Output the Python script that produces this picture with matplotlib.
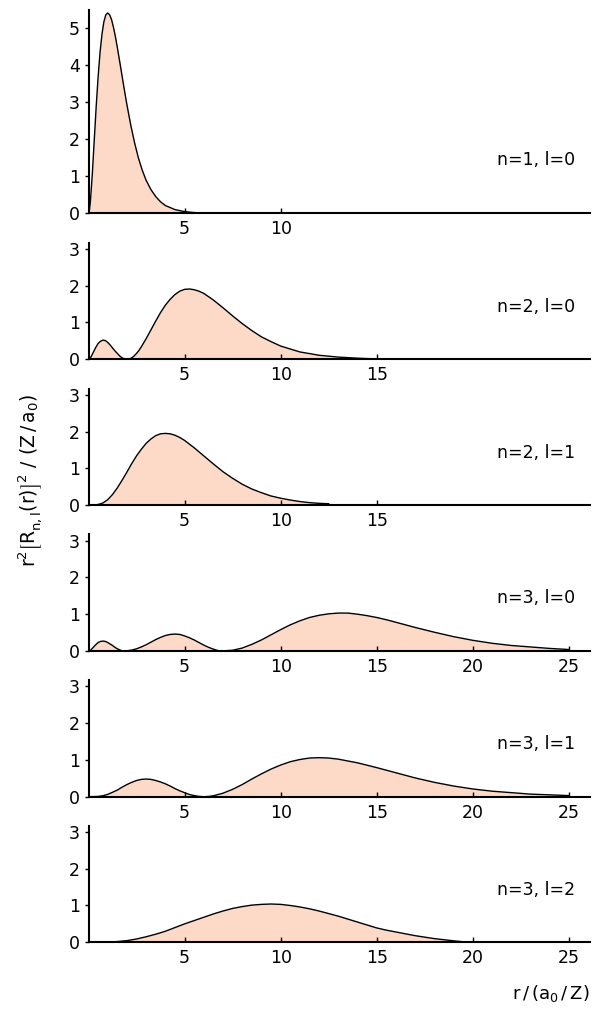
import matplotlib
matplotlib.use('Agg')
import matplotlib.pyplot as plt

plt.rcParams['font.family'] = ['DejaVu Sans']
plt.rcParams['mathtext.fontset'] = 'dejavusans'

# radial probability, values
r_1s = [0, 0.05, 0.1, 0.2, 0.3, 0.4, 0.5, 0.6, 0.7, 0.8, 0.9, 1.0, 1.1, 1.2, 1.3, 1.4, 1.5,
        1.6, 1.7, 1.8, 1.9, 2.0, 2.2, 2.4, 2.6, 2.8, 3.0, 3.25, 3.5, 3.75, 4.0, 4.5, 5.0,
        5.5, 6.0, 7.0, 8.0]
y_1s = [0, 0.09, 0.33, 1.07, 1.98, 2.88, 3.68, 4.34, 4.83, 5.17, 5.36, 5.41, 5.36, 5.23, 5.02, 4.77, 4.48,
        4.17, 3.86, 3.54, 3.23, 2.93, 2.38, 1.90, 1.49, 1.16, 0.89, 0.64, 0.45, 0.31, 0.21, 0.10, 0.045,
        0.02, 0.009, 0.002, 0.0]

r_2s = [0, 0.125, 0.25, 0.375, 0.5, 0.625, 0.75, 0.875, 1.0, 1.125, 1.25, 1.375, 1.5, 1.625, 1.75,
        1.875, 2.0, 2.125, 2.25, 2.375, 2.5, 2.625, 2.75, 2.875, 3.0, 3.25, 3.5, 3.75, 4.0, 4.25,
        4.5, 4.75, 5.0, 5.25, 5.5, 5.75, 6.0, 6.5, 7.0, 7.5, 8.0, 8.5, 9.0, 9.5, 10, 11, 12,
        13, 14, 15]
y_2s = [0, 0.06, 0.19, 0.32, 0.43, 0.49, 0.52, 0.51, 0.46, 0.39, 0.31, 0.23, 0.16, 0.09, 0.04,
        0.01, 0.0, 0.01, 0.04, 0.09, 0.16, 0.24, 0.34, 0.45, 0.56, 0.80, 1.04, 1.27, 1.47, 1.63,
        1.76, 1.85, 1.90, 1.91, 1.89, 1.85, 1.79, 1.61, 1.40, 1.18, 0.97, 0.78, 0.61, 0.48, 0.36, 0.20, 0.11,
        0.06, 0.03, 0.01]

r_2p = [0, 0.25, 0.5, 0.75, 1.0, 1.25, 1.5, 1.75, 2.0, 2.25, 2.5, 2.75, 3.0, 3.25, 3.5, 3.75,
        4.0, 4.25, 4.5, 4.75, 5.0, 5.5, 6.0, 6.5, 7.0, 7.5, 8.0, 8.5, 9.0, 9.5, 10, 10.5, 11,
        11.5, 12, 12.5]
y_2p = [0, 0.001, 0.02, 0.06, 0.15, 0.29, 0.47, 0.68, 0.90, 1.13, 1.34, 1.52, 1.68, 1.80, 1.89, 1.94,
        1.95, 1.94, 1.90, 1.84, 1.76, 1.56, 1.34, 1.12, 0.91, 0.73, 0.57, 0.44, 0.34, 0.25, 0.19, 0.14, 0.10,
        0.07, 0.05, 0.04]

r_3s = [0, 0.125, 0.25, 0.375, 0.5, 0.625, 0.75, 0.875, 1.0, 1.125, 1.25, 1.375, 1.5, 1.625,
        1.75, 1.85, 2.0, 2.25, 2.5, 2.75, 3.0, 3.25, 3.5, 3.75, 4.0, 4.25, 4.5, 4.75, 5.0, 5.25,
        5.5, 5.75, 6.0, 6.25, 6.5, 6.75, 6.85, 7.0, 7.5, 8.0, 8.5, 9.0, 9.5, 10, 10.5, 11, 11.5,
        12, 12.5, 13, 13.5, 14, 14.5, 15, 15.5, 16, 17, 18, 19, 20, 21, 22, 23, 24, 25]
y_3s = [0, 0.03, 0.10, 0.17, 0.23, 0.26, 0.27, 0.26, 0.23, 0.19, 0.15, 0.10, 0.06, 0.03,
        0.005, 0.0, 0.005, 0.025, 0.06, 0.11, 0.17, 0.24, 0.31, 0.37, 0.42, 0.45, 0.46, 0.45, 0.41, 0.36,
        0.30, 0.23, 0.16, 0.10, 0.05, 0.01, 0.0, 0.003, 0.02, 0.08, 0.18, 0.30, 0.44, 0.58, 0.71, 0.82, 0.91,
        0.97, 1.01, 1.03, 1.03, 1.00, 0.96, 0.91, 0.85, 0.78, 0.64, 0.51, 0.39, 0.29, 0.21, 0.15, 0.11, 0.07, 0.04]

r_3p = [0, 0.5, 0.75, 1.0, 1.25, 1.5, 1.75, 2.0, 2.25, 2.5, 2.75, 3.0, 3.25, 3.5, 3.75, 4.0,
        4.25, 4.5, 4.75, 5.0, 5.25, 5.5, 5.75, 6.0, 6.25, 6.5, 7.0, 7.5, 8.0, 8.5, 9.0, 9.5,
        10, 10.5, 11, 11.5, 12, 12.5, 13, 13.5, 14, 15, 16, 17, 18, 19, 20, 21, 22, 23, 24, 25]
y_3p = [0, 0.007, 0.026, 0.063, 0.12, 0.18, 0.26, 0.33, 0.39, 0.44, 0.47, 0.48, 0.47, 0.44, 0.40, 0.35,
        0.29, 0.22, 0.16, 0.11, 0.06, 0.03, 0.007, 0.0, 0.006, 0.025, 0.095, 0.20, 0.33, 0.48, 0.62, 0.75,
        0.86, 0.95, 1.01, 1.05, 1.06, 1.05, 1.02, 0.97, 0.92, 0.79, 0.65, 0.51, 0.39, 0.29, 0.21, 0.15, 0.11, 0.07, 0.05, 0.03]

r_3d = [0, 1, 1.5, 2, 2.5, 3, 3.5, 4, 4.5, 5, 5.5, 6, 6.5, 7, 7.5, 8, 8.5, 9, 9.5, 10,
        10.5, 11, 11.5, 12, 12.5, 13, 13.5, 14, 14.5, 15, 15.5, 16, 16.5, 17, 17.5, 18, 18.5,
        19, 19.5, 20]
y_3d = [0, 0.005, 0.02, 0.045, 0.09, 0.15, 0.22, 0.30, 0.40, 0.50, 0.59, 0.68, 0.77, 0.85, 0.92, 0.97,
        1.01, 1.03, 1.04, 1.03, 1.00, 0.96, 0.91, 0.85, 0.78, 0.71, 0.63, 0.55, 0.47, 0.39, 0.33, 0.28,
        0.23, 0.18, 0.14, 0.10, 0.07, 0.04, 0.015, 0.0]

labels = ['n=1, l=0', 'n=2, l=0', 'n=2, l=1', 'n=3, l=0', 'n=3, l=1', 'n=3, l=2']
xticks_1 = [5, 10]
xticks_2 = [5, 10, 15]
xticks_3 = [5, 10, 15, 20, 25]

panels = [
    (r_1s, y_1s, xticks_1, [0, 1, 2, 3, 4, 5]),
    (r_2s, y_2s, xticks_2, [0, 1, 2, 3]),
    (r_2p, y_2p, xticks_2, [0, 1, 2, 3]),
    (r_3s, y_3s, xticks_3, [0, 1, 2, 3]),
    (r_3p, y_3p, xticks_3, [0, 1, 2, 3]),
    (r_3d, y_3d, xticks_3, [0, 1, 2, 3]),
]

W, H = 593, 1009
fig = plt.figure(figsize=(W / 100, H / 100), dpi=100)

fill_color = '#fdd9c7'
fs = 12.5
left_px, right_px = 88.5, 590
zero_px = [213.3, 359.3, 505.2, 651.0, 796.7, 942.3]
top_px = [10.0] + [z - 116.7 for z in zero_px[1:]]

for i, (r, y, xt, yt) in enumerate(panels):
    z, t = zero_px[i], top_px[i]
    ax = fig.add_axes([left_px / W, 1 - z / H, (right_px - left_px) / W, (z - t) / H])
    ax.fill_between(r, y, 0, color=fill_color, lw=0)
    ax.plot(r, y, color='black', lw=1.0)
    ax.set_xlim(0, 26.1)
    ax.set_ylim(0, 5.49 if i == 0 else 3.17)
    ax.set_xticks(xt)
    ax.set_yticks(yt)
    for s in ['top', 'right']:
        ax.spines[s].set_visible(False)
    for s in ['left', 'bottom']:
        ax.spines[s].set_linewidth(1.5)
    ax.tick_params(axis='y', direction='out', length=3, width=1, labelsize=fs, pad=3)
    ax.tick_params(axis='x', direction='in', length=3.5, width=1, labelsize=fs, pad=5)
    ax.text(25.3, 1.43, labels[i], ha='right', va='center', fontsize=fs)

# y label: taller brackets as in the original
fig.text(30 / W, 1 - 480 / H,
         r'$\mathregular{r^2\left[R^{\ }_{n,l}(r)\right]^2\ /\ (Z\,/\,a_0)}$',
         rotation=90, ha='center', va='center', fontsize=13.5)
fig.text(590 / W, 1 - 999 / H, r'$\mathregular{r\,/\,(a_0\,/\,Z)}$',
         ha='right', va='baseline', fontsize=13)

fig.savefig('out.png', dpi=100)
